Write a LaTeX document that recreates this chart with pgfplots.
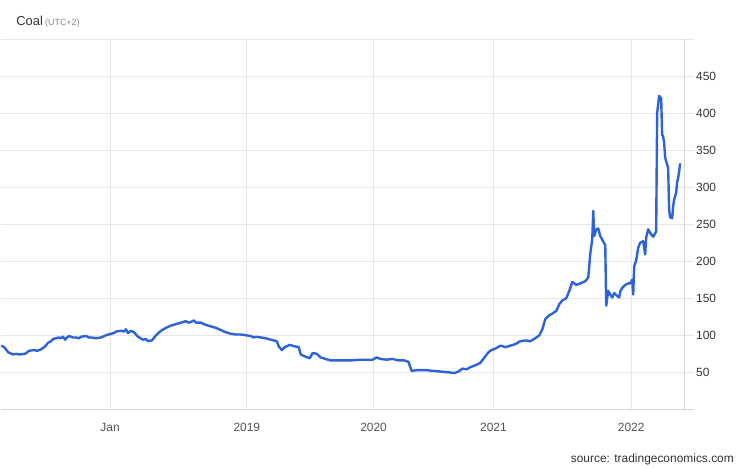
\documentclass[border=0pt]{standalone}
\usepackage{fontspec}
\setmainfont{Liberation Sans}
\usepackage{pgfplots}
\pgfplotsset{compat=1.18}
\definecolor{gridc}{HTML}{E6E6E6}
\definecolor{axc}{HTML}{D4D4D4}
\definecolor{linec}{HTML}{2D62D9}
\definecolor{txt}{HTML}{333333}
\definecolor{sub}{HTML}{888888}
\begin{document}
\begin{tikzpicture}[x=1bp,y=1bp]
\begin{axis}[
  name=ax,
  scale only axis, width=684bp, height=371bp,
  xmin=0, xmax=684, ymin=0, ymax=500,
  axis line style={draw=none},
  xtick={109,246,373,493,631},
  xticklabels={Jan,2019,2020,2021,2022},
  ytick={50,100,...,450},
  ytick pos=right, yticklabel pos=right,
  tick align=outside,
  xmajorgrids, ymajorgrids,
  major grid style={gridc, line width=0.8bp},
  x tick style={draw=none},
  y tick style={gridc, line width=0.8bp},
  major tick length=10bp,
  /pgf/number format/assume math mode=true,
  tick label style={font=\fontsize{12}{12}\selectfont, text=txt},
  xticklabel style={yshift=0bp, text=txt!85},
  yticklabel style={anchor=west, xshift=-1.5bp},
  clip=false,
]
\addplot[linec, line width=2.4bp, line join=round, no marks] coordinates {
(0,86) (3,84) (7,77) (12,74) (15,75) (18,74) (24,75) (28,79) (33,80) (36,79) (40,81) (44,85)
(47,90) (50,92) (52,95) (55,96) (58,97) (60,96) (62,98) (64,94) (66,97) (68,99) (72,97) (75,97) (78,96) (80,98) (85,99) (88,97) (90,97)
(95,96) (100,97) (105,100) (110,102) (113,103) (115,105) (120,106) (123,105) (125,108) (127,103) (130,106) (133,104)
(137,98) (142,94) (145,95) (147,92) (151,93) (155,100) (160,106) (165,110) (170,113) (175,115) (180,117)
(185,119) (188,117) (190,118) (193,120) (195,117) (200,117) (203,115) (205,114) (210,112) (215,110) (220,107) (225,104) (230,102)
(235,101) (240,101) (245,100) (250,99) (253,97) (255,98) (260,97) (265,96) (270,94) (276,92) (278,85)
(281,80) (284,84) (289,87) (294,85) (298,84) (300,74) (305,71) (309,69) (312,76) (316,75)
(320,70) (325,68) (330,66) (340,66) (350,66) (360,67) (368,67) (372,67) (376,70) (380,68)
(386,67) (392,68) (398,66) (404,66) (408,64) (411,52) (418,53) (425,53) (432,52) (440,51)
(448,50) (454,49) (458,51) (462,55) (466,54) (470,57) (476,60) (480,63) (484,70) (488,77)
(491,80) (495,82) (500,86) (505,84) (510,86) (515,88) (520,92) (525,93) (530,92) (535,96)
(539,100) (542,108) (545,122) (549,127) (553,130) (556,133) (559,142) (562,147) (566,150) (569,160)
(572,172) (576,168) (580,170) (585,173) (588,178) (590,210) (592,230) (593,268) (594,234) (596,243)
(598,244) (600,234) (602,229) (604,224) (605,222) (606,140) (608,160) (610,155) (612,151) (614,157)
(617,153) (619,151) (620,159) (622,164) (625,168) (628,170) (630,170) (632,175) (633,155) (634,193)
(636,201) (638,218) (640,225) (643,227) (645,209) (646,232) (648,243) (651,236) (653,233) (656,240)
(657,400) (659,423) (661,420) (662,371) (663,368) (664,360) (665,340) (667,330) (668,326) (669,270)
(670,259) (672,258) (673,274) (674,283) (676,292) (677,307) (678,312) (679,321) (680,332)
};
\end{axis}
\begin{scope}[shift={(ax.south west)}]
\path (0,-58) rectangle (746,410);
\draw[gridc, line width=0.8bp] (0,371) -- (694,371);
\draw[axc, line width=0.8bp] (0,0) -- (694,0);
\draw[axc, line width=0.8bp] (684,-2) -- (684,371);
\node[anchor=base west, inner sep=0, text=txt] at (15,384) {\fontsize{13}{13}\selectfont Coal\,\textcolor{sub}{\fontsize{9}{9}\selectfont (UTC+2)}};
\node[anchor=base east, inner sep=0, text=txt] at (734,-53) {\fontsize{12}{12}\selectfont source: tradingeconomics.com};
\end{scope}
\end{tikzpicture}
\end{document}
